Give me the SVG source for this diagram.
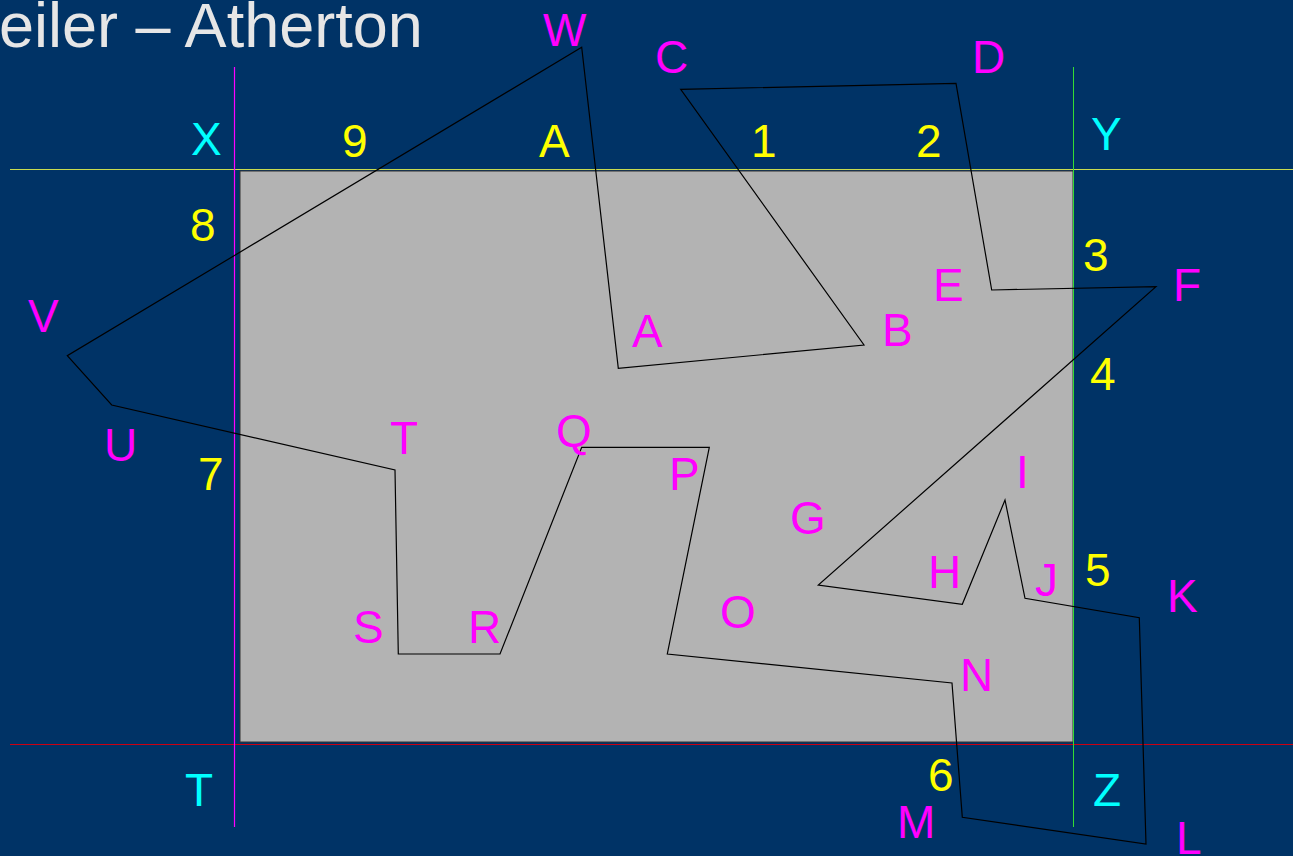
<svg xmlns="http://www.w3.org/2000/svg" width="1293" height="856" viewBox="0 0 1293 856">
  <style>
    text { font-family: "Liberation Sans", Arial, sans-serif; font-size: 46px; }
    .m { fill: #ff00ff; }
    .y { fill: #ffff00; }
    .c { fill: #00ffff; }
    .title { fill: #e6e6e6; font-size: 63px; }
    .poly { fill: none; stroke: #000000; stroke-width: 1.2; stroke-linejoin: miter; }
  </style>
  <rect x="0" y="0" width="1293" height="856" fill="#003366"/>
  <text class="title" x="-1" y="47">eiler – Atherton</text>

  <g id="window">
    <rect x="240" y="171" width="833" height="571" fill="#b3b3b3" stroke="#333333" stroke-width="1"/>
  </g>

  <g id="guides">
    <line x1="10" y1="169.5" x2="1293" y2="169.5" stroke="#c8dc50" stroke-width="1"/>
    <line x1="10" y1="744.5" x2="1293" y2="744.5" stroke="#cc0011" stroke-width="1.2"/>
    <line x1="234.5" y1="67" x2="234.5" y2="827" stroke="#ff00ff" stroke-width="1.2"/>
    <line x1="1073.5" y1="67" x2="1073.5" y2="827" stroke="#33dd33" stroke-width="1"/>
  </g>

  <g id="connectors">
    <polygon class="poly" points="581.7,47.3 618.3,368.3 864,345 680.7,89.3 956,83.3 991.7,290 1156,286.7 818.3,585 962.3,604.3 1005,500 1025,598.3 1139.3,617.7 1146,844 962.3,817.3 952,683 667.3,654 709.3,447.3 581.7,447.3 500,654 398.3,654 395,470 111.7,405 67.3,355.7"/>
  </g>

  <g id="vertex-labels">
    <text class="m" x="543" y="46">W</text>
    <text class="m" x="655" y="73">C</text>
    <text class="m" x="972" y="73">D</text>
    <text class="m" x="632" y="347">A</text>
    <text class="m" x="882" y="346">B</text>
    <text class="m" x="933" y="301">E</text>
    <text class="m" x="1173" y="301">F</text>
    <text class="m" x="790" y="534">G</text>
    <text class="m" x="928" y="588">H</text>
    <text class="m" x="1016" y="488">I</text>
    <text class="m" x="1035" y="596">J</text>
    <text class="m" x="1167" y="612">K</text>
    <text class="m" x="1176" y="854">L</text>
    <text class="m" x="897" y="838">M</text>
    <text class="m" x="960" y="691">N</text>
    <text class="m" x="720" y="628">O</text>
    <text class="m" x="669" y="490">P</text>
    <text class="m" x="556" y="447">Q</text>
    <text class="m" x="468" y="643">R</text>
    <text class="m" x="353" y="643">S</text>
    <text class="m" x="390" y="454">T</text>
    <text class="m" x="104" y="461">U</text>
    <text class="m" x="28" y="332">V</text>
  </g>

  <g id="edge-labels">
    <text class="y" x="342" y="157">9</text>
    <text class="y" x="539" y="157">A</text>
    <text class="y" x="751" y="157">1</text>
    <text class="y" x="916" y="157">2</text>
    <text class="y" x="190" y="241">8</text>
    <text class="y" x="1083" y="271">3</text>
    <text class="y" x="1090" y="390">4</text>
    <text class="y" x="198" y="490">7</text>
    <text class="y" x="1085" y="586">5</text>
    <text class="y" x="928" y="791">6</text>
  </g>

  <g id="corner-labels">
    <text class="c" x="191" y="155">X</text>
    <text class="c" x="1091" y="150">Y</text>
    <text class="c" x="185" y="806">T</text>
    <text class="c" x="1093" y="806">Z</text>
  </g>
</svg>
